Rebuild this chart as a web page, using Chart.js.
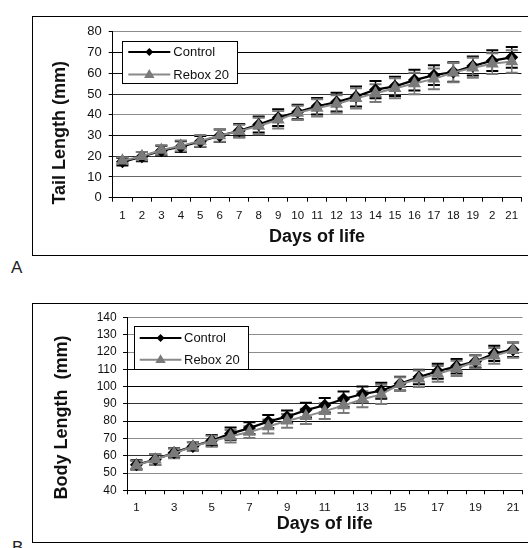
<!DOCTYPE html>
<html><head><meta charset="utf-8">
<script src="https://cdn.jsdelivr.net/npm/chart.js@4/dist/chart.umd.min.js"></script>
<style>
html,body{margin:0;padding:0;background:#fff;overflow:hidden;width:528px;height:548px;position:relative;}
.frame{position:absolute;border:1px solid #000;box-sizing:border-box;}
canvas{position:absolute;}
.tag{position:absolute;font-family:"Liberation Sans",Arial,sans-serif;font-size:17px;line-height:20px;color:#222;}
</style></head>
<body>
<div class="frame" style="left:32px;top:16px;width:600px;height:240px"></div>
<canvas id="cA" width="496" height="237" style="left:33px;top:17px"></canvas>
<div class="tag" style="left:11px;top:258px">A</div>
<div class="frame" style="left:32px;top:303px;width:600px;height:240px"></div>
<canvas id="cB" width="497" height="237" style="left:33px;top:304px"></canvas>
<div class="tag" style="left:12px;top:538px">B</div>
<script>
// ---------- data ----------
const days = ['1','2','3','4','5','6','7','8','9','10','11','12','13','14','15','16','17','18','19','20','21'];
const tickLabelsA = ['1','2','3','4','5','6','7','8','9','10','11','12','13','14','15','16','17','18','19','2','21'];
const tickLabelsB = ['1','','3','','5','','7','','9','','11','','13','','15','','17','','19','','21'];
const seriesNames = ['Control','Rebox 20'];

const tailControl    = [17.3,19.8,22.7,24.6,27.1,29.9,32.3,35.3,38.6,41.3,44.1,46.1,48.8,52.1,53.7,56.7,59.1,60.6,63.5,66.1,67.7];
const tailControlErr = [1.8,2.2,2.4,2.6,2.7,3.0,3.2,3.8,4.0,3.5,4.0,4.5,4.8,4.2,4.6,5.0,4.8,4.7,4.6,5.0,5.0];
const tailRebox      = [17.8,20.0,23.0,25.0,27.4,30.0,32.1,34.6,37.6,40.9,43.3,45.2,47.9,50.4,52.8,55.1,57.3,60.3,62.7,64.6,65.7];
const tailReboxErr   = [1.6,2.0,2.3,2.6,2.8,3.0,3.1,4.0,4.2,3.4,4.2,4.2,4.9,4.3,4.8,5.2,5.0,4.6,4.8,5.0,5.4];

const bodyControl    = [54.8,57.8,61.8,65.4,68.8,72.8,76.0,79.8,82.6,86.4,89.2,92.8,95.7,97.6,101.7,105.5,108.9,111.8,114.6,119.2,121.4];
const bodyControlErr = [2.6,3.0,2.6,2.4,3.2,3.5,3.4,3.8,3.6,4.2,4.2,4.4,4.4,4.6,4.0,4.2,4.4,4.2,3.6,4.4,4.2];
const bodyRebox      = [54.4,57.8,61.4,65.4,68.4,71.3,73.7,76.9,80.2,82.8,85.8,89.1,92.7,95.5,101.4,104.6,107.4,110.6,114.4,117.8,121.1];
const bodyReboxErr   = [2.6,3.2,2.8,2.6,3.2,3.6,3.4,4.0,4.0,4.4,4.6,4.4,4.6,5.6,4.0,4.8,4.6,4.4,3.8,4.6,4.4];

const yTitleA = 'Tail Length (mm)';
const yTitleB = 'Body Length  (mm)';
const xTitle = 'Days of life';

// ---------- styling ----------
const FONT = '"Liberation Sans", Arial, sans-serif';
const BLACK = '#000000';
const GRAY = '#7a7a7a';
const gridA = {80:'#8c8c8c',70:'#000',60:'#111',50:'#333',40:'#8c8c8c',30:'#111',20:'#333',10:'#666',0:'#000'};
const gridB = {140:'#8c8c8c',130:'#8c8c8c',120:'#8c8c8c',110:'#000',100:'#000',90:'#333',80:'#000',70:'#8c8c8c',60:'#333',50:'#8c8c8c',40:'#000'};

const errorBarPlugin = {
  id: 'errorBars',
  beforeDatasetsDraw(chart) {
    const ctx = chart.ctx, ys = chart.scales.y;
    chart.data.datasets.forEach((ds, i) => {
      const meta = chart.getDatasetMeta(i);
      ctx.save();
      ctx.strokeStyle = ds.errColor;
      meta.data.forEach((pt, j) => {
        const v = ds.data[j], e = ds.errors[j];
        const x = pt.x, yt = ys.getPixelForValue(v + e), yb = ys.getPixelForValue(v - e);
        ctx.lineWidth = 1.5;
        ctx.beginPath(); ctx.moveTo(x, yt); ctx.lineTo(x, yb); ctx.stroke();
        ctx.lineWidth = 2;
        ctx.beginPath();
        ctx.moveTo(x - 6, yt); ctx.lineTo(x + 6, yt);
        ctx.moveTo(x - 6, yb); ctx.lineTo(x + 6, yb);
        ctx.stroke();
      });
      ctx.restore();
    });
  }
};

function drawMarker(ctx, style, x, y, r, color) {
  ctx.fillStyle = color;
  ctx.beginPath();
  if (style === 'rectRot') {
    ctx.moveTo(x, y - r); ctx.lineTo(x + r, y); ctx.lineTo(x, y + r); ctx.lineTo(x - r, y);
  } else {
    ctx.moveTo(x, y - r); ctx.lineTo(x + r * 0.95, y + r * 0.6); ctx.lineTo(x - r * 0.95, y + r * 0.6);
  }
  ctx.closePath(); ctx.fill();
}

const boxLegendPlugin = {
  id: 'boxLegend',
  afterDatasetsDraw(chart, args, o) {
    const {ctx, chartArea} = chart;
    const x0 = Math.round(chartArea.left + o.dx), y0 = Math.round(chartArea.top + o.dy);
    ctx.save();
    ctx.fillStyle = '#fff'; ctx.fillRect(x0, y0, o.w, o.h);
    ctx.strokeStyle = '#000'; ctx.lineWidth = 1; ctx.strokeRect(x0 + 0.5, y0 + 0.5, o.w, o.h);
    chart.data.datasets.forEach((ds, i) => {
      const ry = y0 + o.rows[i];
      ctx.strokeStyle = ds.borderColor; ctx.lineWidth = 2;
      ctx.beginPath(); ctx.moveTo(x0 + o.lx0, ry); ctx.lineTo(x0 + o.lx1, ry); ctx.stroke();
      drawMarker(ctx, ds.pointStyle, x0 + (o.lx0 + o.lx1) / 2, ry, ds.pointStyle === 'rectRot' ? 4 : 5.5, ds.backgroundColor);
      ctx.fillStyle = '#111';
      ctx.font = '13px ' + FONT;
      ctx.textBaseline = 'middle'; ctx.textAlign = 'left';
      ctx.fillText(ds.label, x0 + o.tx, ry + 0.5);
    });
    ctx.restore();
  }
};

const yTitlePlugin = {
  id: 'yTitle',
  afterDraw(chart, args, o) {
    const {ctx, chartArea} = chart;
    ctx.save();
    ctx.translate(chartArea.left + o.dx, (chartArea.top + chartArea.bottom) / 2 + o.dy);
    ctx.rotate(-Math.PI / 2);
    ctx.font = 'bold 18px ' + FONT;
    ctx.fillStyle = '#111';
    ctx.textAlign = 'center'; ctx.textBaseline = 'middle';
    ctx.fillText(o.text, 0, 0);
    ctx.restore();
  }
};

function makeChart(id, cfg) {
  return new Chart(document.getElementById(id), {
    type: 'line',
    data: {
      labels: days,
      datasets: [
        {label: seriesNames[0], data: cfg.c, errors: cfg.ce, errColor: BLACK, order: 2,
         borderColor: BLACK, backgroundColor: BLACK, borderWidth: 2.2,
         pointStyle: 'rectRot', pointRadius: 6.5, pointBorderWidth: 0, tension: 0},
        {label: seriesNames[1], data: cfg.r, errors: cfg.re, errColor: GRAY, order: 1,
         borderColor: '#8a8a8a', backgroundColor: GRAY, borderWidth: 2,
         pointStyle: 'triangle', pointRadius: 7.5, pointBorderWidth: 0, tension: 0}
      ]
    },
    options: {
      responsive: false, animation: false, events: [], devicePixelRatio: 1,
      layout: {padding: {top: cfg.padTop, left: 0, right: 0, bottom: 0}},
      plugins: {
        legend: {display: false}, tooltip: {enabled: false},
        boxLegend: cfg.legend,
        yTitle: cfg.yTitle
      },
      scales: {
        x: {
          type: 'category', offset: true,
          grid: {display: true, drawOnChartArea: false, drawTicks: true, tickLength: 4, tickColor: '#000', offset: true},
          border: {display: true, color: '#000', width: 1},
          ticks: {autoSkip: false, maxRotation: 0, minRotation: 0, padding: cfg.xPad, color: '#111',
                  font: {size: 11.5, family: FONT}, callback: (v, i) => cfg.xLabels[i]},
          title: {display: true, text: xTitle, color: '#111', font: {size: 18, weight: 'bold', family: FONT},
                  padding: {top: 0, bottom: cfg.xTitlePad}},
          afterFit: s => { s.height = cfg.xH; }
        },
        y: {
          min: cfg.min, max: cfg.max,
          grid: {color: c => (c.tick && cfg.grid[c.tick.value]) || '#000', tickColor: '#000', tickLength: 4, drawTicks: true},
          border: {display: true, color: '#000', width: 1},
          ticks: {stepSize: 10, autoSkip: false, padding: cfg.yPad, color: '#111', font: {size: cfg.ySize, family: FONT}},
          afterFit: s => { s.width = cfg.yW; }
        }
      }
    },
    plugins: [errorBarPlugin, boxLegendPlugin, yTitlePlugin]
  });
}

makeChart('cA', {
  c: tailControl, ce: tailControlErr, r: tailRebox, re: tailReboxErr,
  min: 0, max: 80, grid: gridA, xLabels: tickLabelsA,
  padTop: 11, yW: 79.7, xH: 56.3, xPad: 7.5, yPad: 7, ySize: 13, xTitlePad: 6.2,
  legend: {dx: 9, dy: 8.7, w: 115, h: 42, rows: [11, 33.6], lx0: 6.3, lx1: 48.3, tx: 51.3},
  yTitle: {text: yTitleA, dx: -52.7, dy: 18}
});

makeChart('cB', {
  c: bodyControl, ce: bodyControlErr, r: bodyRebox, re: bodyReboxErr,
  min: 40, max: 140, grid: gridB, xLabels: tickLabelsB,
  padTop: 10.3, yW: 94, xH: 50.7, xPad: 6.6, yPad: 6.3, ySize: 12, xTitlePad: 5.9,
  legend: {dx: 7.3, dy: 8, w: 114, h: 43, rows: [12, 33.7], lx0: 5.7, lx1: 47.4, tx: 50},
  yTitle: {text: yTitleB, dx: -65.3, dy: 13.5}
});
</script>
</body></html>
